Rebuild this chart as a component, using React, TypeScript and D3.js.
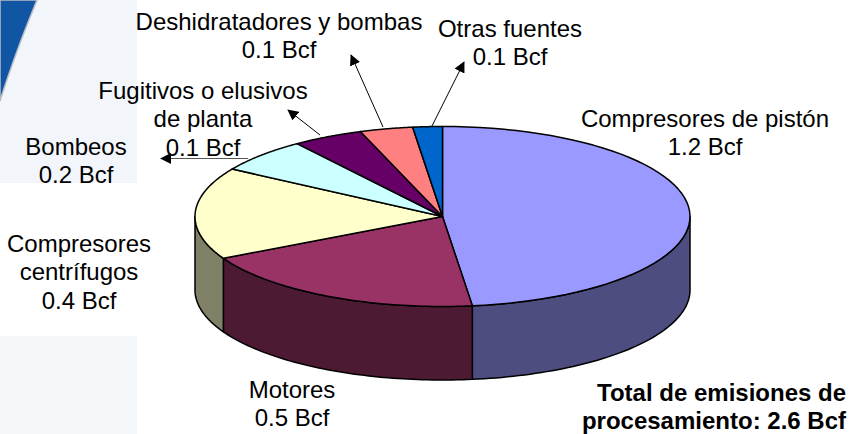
import React, { useRef, useEffect } from 'react';
import * as d3 from 'd3';

const categories = [
    'Compresores de pistón',
    'Motores',
    'Compresores centrífugos',
    'Bombeos',
    'Fugitivos o elusivos de planta',
    'Deshidratadores y bombas',
    'Otras fuentes',
];
const sliceValues = [1.25, 0.5, 0.43, 0.16, 0.12, 0.09, 0.05];
const topColors = ['#9999ff', '#993366', '#ffffcc', '#ccffff', '#660066', '#ff8080', '#0066cc'];
const wallColors = ['#4d4d80', '#4d1a33', '#808066', '#668080', '#330033', '#804040', '#003366'];

const labelLines = [
    ['Compresores de pistón', '1.2 Bcf'],
    ['Motores', '0.5 Bcf'],
    ['Compresores', 'centrífugos', '0.4 Bcf'],
    ['Bombeos', '0.2 Bcf'],
    ['Fugitivos o elusivos', 'de planta', '0.1 Bcf'],
    ['Deshidratadores y bombas', '0.1 Bcf'],
    ['Otras fuentes', '0.1 Bcf'],
];
const totalLines = ['Total de emisiones de', 'procesamiento: 2.6 Bcf'];

const width = 850;
const height = 434;
const cx = 442.5;
const cy = 216.5;
const rx = 247.5;
const ry = 90;
const depth = 73.5;
const lineHeight = 28.4;

const labelPos = [
    { x: 705, y: 126.5 },
    { x: 292, y: 398 },
    { x: 79, y: 252 },
    { x: 76, y: 155 },
    { x: 203, y: 99 },
    { x: 279, y: 30 },
    { x: 510, y: 36.5 },
];
const totalPos = { x: 846, y: 401 };

const leaders = [
    { from: [431.5, 127], to: [464, 62], color: '#000' },
    { from: [383, 127], to: [351, 55], color: '#000' },
    { from: [320, 135], to: [288, 110], color: '#000' },
    { from: [248, 158.5], to: [161, 158.5], color: '#555' },
];

const App: React.FC = () => {
    const svgRef = useRef<SVGSVGElement | null>(null);

    useEffect(() => {
        if (!svgRef.current) return;

        const svg = d3.select(svgRef.current);
        svg.selectAll('*').remove();
        svg.attr('viewBox', `0 0 ${width} ${height}`);

        const defs = svg.append('defs');
        const marker = defs.append('marker')
            .attr('id', 'arrow')
            .attr('viewBox', '0 0 12 12')
            .attr('refX', 11)
            .attr('refY', 6)
            .attr('markerWidth', 11)
            .attr('markerHeight', 11)
            .attr('markerUnits', 'userSpaceOnUse')
            .attr('orient', 'auto');
        marker.append('path').attr('d', 'M0,0L12,6L0,12Z').attr('fill', '#000');

        // Background
        svg.append('rect').attr('width', width).attr('height', height).attr('fill', '#fff');
        svg.append('rect').attr('width', 137).attr('height', 183).attr('fill', '#f2f6fb');
        svg.append('rect').attr('y', 336).attr('width', 137).attr('height', 98).attr('fill', '#f4f8fb');
        const swoosh = d3.line().curve(d3.curveBasis);
        svg.append('path')
            .attr('d', swoosh([[37, 0], [20, 42], [6, 82], [0, 101]]) + 'L0,0Z')
            .attr('fill', '#1155a5')
            .attr('stroke', '#b9bcc4')
            .attr('stroke-width', 1.5);

        // Pie on the ellipse
        const pie = d3.pie<number>().sort(null).startAngle(0).endAngle(2 * Math.PI);
        const arcs = pie(sliceValues);

        const x = d3.scaleLinear().domain([-1, 1]).range([cx - rx, cx + rx]);
        const y = d3.scaleLinear().domain([-1, 1]).range([cy + ry, cy - ry]);
        const px = (a: number) => x(Math.sin(a));
        const py = (a: number) => y(Math.cos(a));

        const arcPoints = (a0: number, a1: number, dy = 0): [number, number][] =>
            d3.range(0, 61).map(i => {
                const a = a0 + (a1 - a0) * i / 60;
                return [px(a), py(a) + dy];
            });
        const line = d3.line();

        // Side walls, only the front half of the rim shows
        const wallGroup = svg.append('g');
        arcs.forEach((d, i) => {
            const a0 = Math.max(d.startAngle, Math.PI / 2);
            const a1 = Math.min(d.endAngle, 3 * Math.PI / 2);
            if (a1 <= a0) return;
            wallGroup.append('path')
                .attr('d', line([...arcPoints(a0, a1), ...arcPoints(a1, a0, depth)]) + 'Z')
                .attr('fill', wallColors[i])
                .attr('stroke', '#000')
                .attr('stroke-width', 1.5)
                .attr('stroke-linejoin', 'round');
        });

        // Top faces
        const topGroup = svg.append('g');
        arcs.forEach((d, i) => {
            topGroup.append('path')
                .attr('d', line([[cx, cy], ...arcPoints(d.startAngle, d.endAngle)]) + 'Z')
                .attr('fill', topColors[i])
                .attr('stroke', '#000')
                .attr('stroke-width', 1.5)
                .attr('stroke-linejoin', 'round');
        });

        // Leader arrows
        svg.append('g').selectAll('line')
            .data(leaders)
            .join('line')
            .attr('x1', d => d.from[0])
            .attr('y1', d => d.from[1])
            .attr('x2', d => d.to[0])
            .attr('y2', d => d.to[1])
            .attr('stroke', d => d.color)
            .attr('stroke-width', 1)
            .attr('marker-end', 'url(#arrow)');

        // Labels
        const labels = svg.append('g')
            .attr('font-family', '"Liberation Sans", Arial, sans-serif')
            .attr('font-size', 24)
            .attr('fill', '#000')
            .attr('text-anchor', 'middle');
        labelLines.forEach((lines, i) => {
            const text = labels.append('text').attr('data-category', categories[i]);
            lines.forEach((l, j) => {
                text.append('tspan')
                    .attr('x', labelPos[i].x)
                    .attr('y', labelPos[i].y + j * lineHeight)
                    .text(l);
            });
        });

        const total = svg.append('text')
            .attr('font-family', '"Liberation Sans", Arial, sans-serif')
            .attr('font-size', 24)
            .attr('font-weight', 'bold')
            .attr('text-anchor', 'end')
            .attr('fill', '#000');
        totalLines.forEach((l, j) => {
            total.append('tspan')
                .attr('x', totalPos.x)
                .attr('y', totalPos.y + j * lineHeight)
                .text(l);
        });
    }, []);

    return <svg ref={svgRef} width={width} height={height} style={{ position: 'absolute', left: 0, top: 0 }}></svg>;
};

export default App;
